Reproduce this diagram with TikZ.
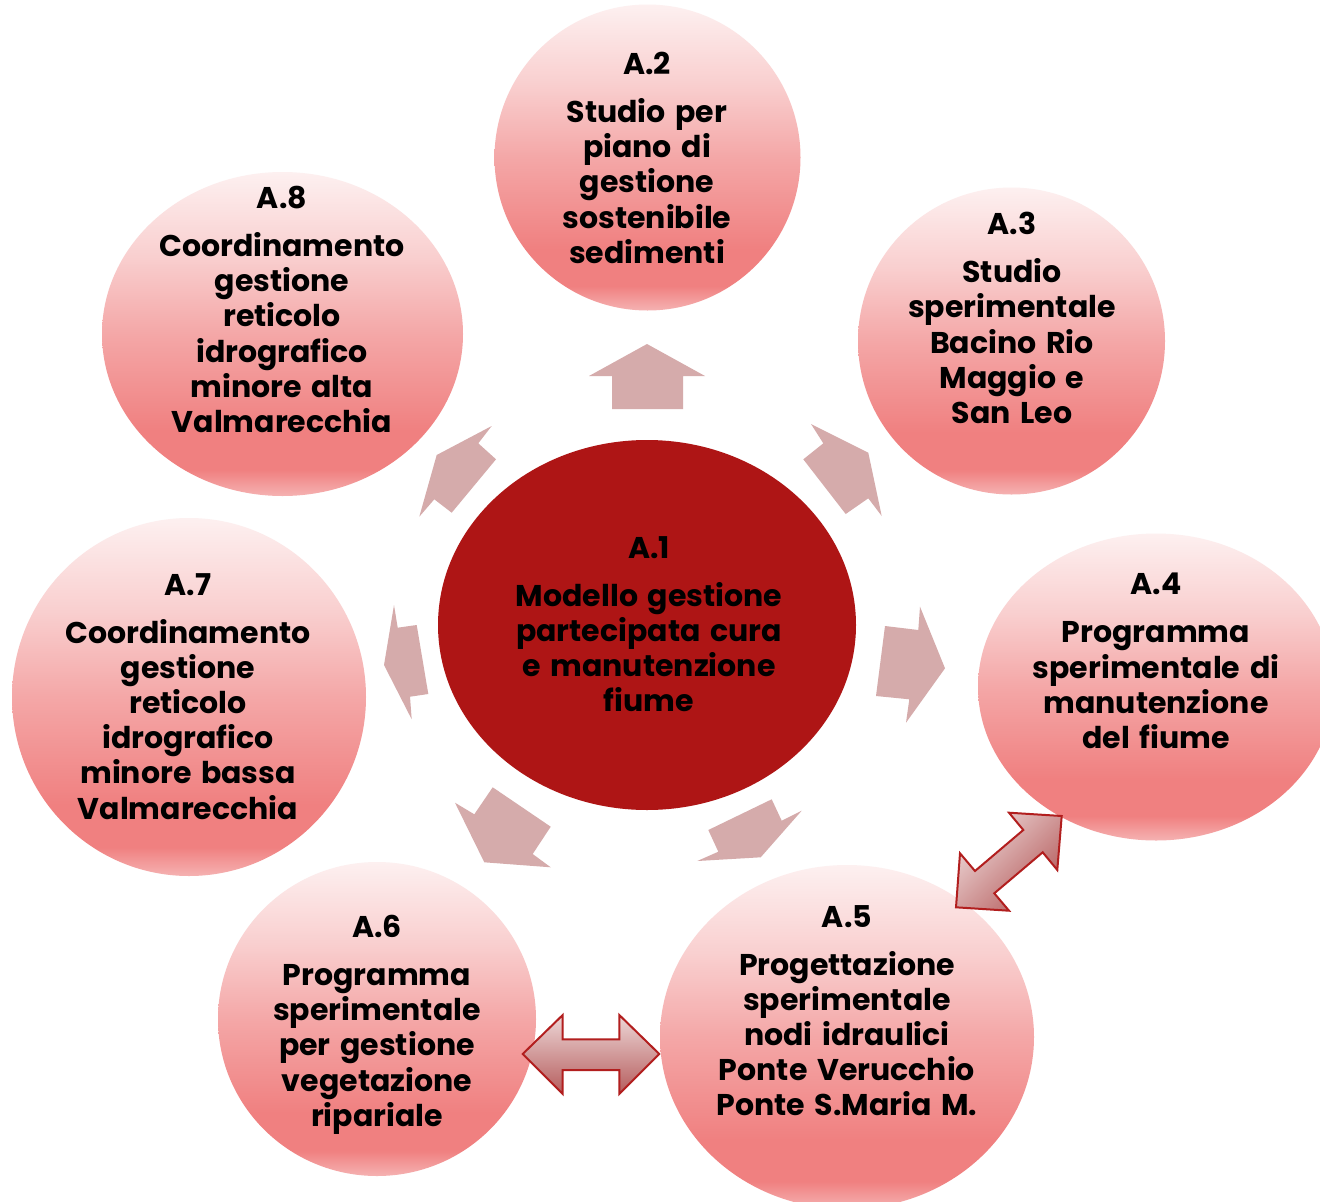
\documentclass[tikz,border=0pt]{standalone}
\usepackage{fontspec}
\setmainfont{Poppins}
\usetikzlibrary{shapes.geometric}
\definecolor{pkTop}{HTML}{FDF0F0}
\definecolor{pkUp}{HTML}{F9CFCF}
\definecolor{pkMid}{HTML}{F4A7A7}
\definecolor{pkDark}{HTML}{F08080}
\definecolor{pkBot}{HTML}{F5B2B2}
\definecolor{coreRed}{HTML}{AE1515}
\definecolor{radArrow}{HTML}{D5ABAB}
\definecolor{dblLight}{HTML}{EDD7D7}
\definecolor{dblDark}{HTML}{B55C5C}
\definecolor{dblEdge}{HTML}{B21E1E}
\newcommand{\lblfont}{\fontsize{30}{35.2}\selectfont\bfseries\spaceskip=0.32em\relax}
\pgfdeclareverticalshading{pinkball}{100bp}{color(0bp)=(pkBot); color(25bp)=(pkBot); color(29bp)=(pkDark); color(35bp)=(pkDark); color(50bp)=(pkMid); color(62bp)=(pkUp); color(75bp)=(pkTop); color(100bp)=(pkTop)}
\tikzset{
  outerball/.style={ellipse, shading=pinkball, draw=none, inner sep=0pt},
  coreball/.style={ellipse, fill=coreRed, draw=none, inner sep=0pt},
  lbl/.style={align=center, anchor=north, inner sep=0pt, text=black, font=\lblfont},
  radarrow/.style={fill=radArrow, draw=none},
  dblarrow/.style={draw=dblEdge, line width=2pt, line join=miter, top color=dblLight, bottom color=dblDark}
}
\begin{document}
\begin{tikzpicture}[x=1pt,y=-1pt]
\useasboundingbox[fill=white] (0,0) rectangle (1320,1202);

% circles
\node[coreball, minimum width=418pt, minimum height=370pt] (c1) at (647,625) {};
\node[outerball, minimum width=306pt, minimum height=306pt] (c2) at (647.5,157.5) {};
\node[outerball, minimum width=307pt, minimum height=307pt] (c3) at (1011.5,341) {};
\node[outerball, minimum width=356pt, minimum height=307pt] (c4) at (1156,687) {};
\node[outerball, minimum width=374pt, minimum height=344pt] (c5) at (847,1037) {};
\node[outerball, minimum width=318pt, minimum height=314pt] (c6) at (377,1019) {};
\node[outerball, minimum width=354pt, minimum height=358pt] (c7) at (189,697) {};
\node[outerball, minimum width=361pt, minimum height=324pt] (c8) at (282.5,334) {};

% radial arrows
\fill[radarrow] (612,409) -- (612,376) -- (589,376) -- (647,344) -- (705,376) -- (683,376) -- (683,409) -- cycle;
\fill[radarrow] (803.3,459.3) -- (823.3,443.3) -- (811,424) -- (868.3,452.7) -- (881.7,516) -- (868.3,498.3) -- (845.7,514) -- cycle;
\fill[radarrow] (885,626) -- (918.3,630) -- (920,606.7) -- (945,668.3) -- (906,722.7) -- (909.3,699.3) -- (876,696) -- cycle;
\fill[radarrow] (708.3,830) -- (771.7,799.3) -- (781.7,820.7) -- (801.7,810.7) -- (760.7,857.3) -- (697.3,861) -- (718.3,851.7) -- cycle;
\fill[radarrow] (492.7,787.3) -- (550.7,826.7) -- (532.7,854) -- (550.7,867.3) -- (484.3,862.3) -- (455,802.7) -- (474.3,814.3) -- cycle;
\fill[radarrow] (416.7,625) -- (397.7,627.7) -- (394,605) -- (384,665) -- (411.7,719.3) -- (410,696.7) -- (428.3,694) -- cycle;
\fill[radarrow] (496,459.3) -- (478.3,443.3) -- (491.7,426) -- (436.7,455) -- (419.3,516.7) -- (434.3,499.3) -- (451.7,512.7) -- cycle;

% double arrows
\draw[dblarrow, shading angle=45] (1061.7,816) -- (1009,812.7) -- (1023.3,830) -- (975,871) -- (960,853.3) -- (956,907.3) -- (1009,910.7) -- (994.3,893.3) -- (1042.7,852.3) -- (1057.3,870) -- cycle;
\draw[dblarrow] (522.7,1054) -- (562.7,1015) -- (562.7,1039.3) -- (619.3,1039.3) -- (619.3,1015) -- (659.3,1054) -- (619.3,1094) -- (619.3,1070) -- (562.7,1070) -- (562.7,1094) -- cycle;

% labels
\node[lbl] (t1) at (649,536) {A.1\\[12.8pt]Modello gestione\\partecipata cura\\e manutenzione\\fiume};
\node[lbl] (t2) at (647,52) {A.2\\[12.8pt]Studio per\\piano di\\gestione\\sostenibile\\sedimenti};
\node[lbl] (t3) at (1012,212) {A.3\\[12.8pt]Studio\\sperimentale\\Bacino Rio\\Maggio e\\San Leo};
\node[lbl] (t4) at (1156,573) {A.4\\[12.8pt]Programma\\sperimentale di\\manutenzione\\del fiume};
\node[lbl] (t5) at (847,905) {A.5\\[12.8pt]Progettazione\\sperimentale\\nodi idraulici\\Ponte Verucchio\\Ponte S.Maria M.};
\node[lbl] (t6) at (377,915) {A.6\\[12.8pt]Programma\\sperimentale\\per gestione\\vegetazione\\ripariale};
\node[lbl] (t7) at (188,573) {A.7\\[12.8pt]Coordinamento\\gestione\\reticolo\\idrografico\\minore bassa\\Valmarecchia};
\node[lbl] (t8) at (282,186) {A.8\\[12.8pt]Coordinamento\\gestione\\reticolo\\idrografico\\minore alta\\Valmarecchia};
\end{tikzpicture}
\end{document}
